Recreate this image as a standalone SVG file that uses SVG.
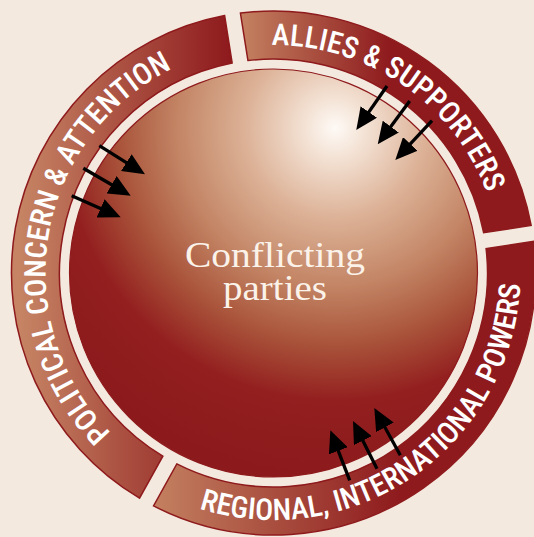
<svg xmlns="http://www.w3.org/2000/svg" xmlns:xlink="http://www.w3.org/1999/xlink" width="534" height="537" viewBox="0 0 534 537">
  <style>
    .seg { stroke: #8e1a1c; stroke-width: 1.5; }
    .ring-label { font-family: "Roboto Condensed", "Liberation Sans Narrow", Roboto, "Liberation Sans", sans-serif; font-size: 30px; fill: #ffffff; font-weight: 500; }
    .center-label { font-family: "Liberation Serif", "DejaVu Serif", serif; font-size: 35px; fill: #fbf3ea; text-anchor: middle; }
    .arrow { stroke: #000000; stroke-width: 3.3; fill: none; marker-end: url(#head); }
  </style>
  <defs>
    <marker id="head" viewBox="0 0 22 20" markerUnits="userSpaceOnUse" markerWidth="22" markerHeight="20" refX="16" refY="10" orient="auto">
      <path d="M0,0 L22,10 L0,20 Z" fill="#000000"/>
    </marker>
    <radialGradient id="sphereGrad" gradientUnits="userSpaceOnUse" cx="335" cy="128" r="350" fx="335" fy="128">
      <stop offset="0" stop-color="#fefaf6"/>
      <stop offset="0.09" stop-color="#f3e1d3"/>
      <stop offset="0.26" stop-color="#dcb196"/>
      <stop offset="0.45" stop-color="#c38565"/>
      <stop offset="0.62" stop-color="#a9533a"/>
      <stop offset="0.78" stop-color="#931f1f"/>
      <stop offset="1" stop-color="#8c1a1c"/>
    </radialGradient>
    <linearGradient id="gradPolitical" gradientUnits="userSpaceOnUse" x1="20" y1="0" x2="230" y2="0">
      <stop offset="0" stop-color="#c68464"/>
      <stop offset="1" stop-color="#8e1a1d"/>
    </linearGradient>
    <linearGradient id="gradAllies" gradientUnits="userSpaceOnUse" x1="240" y1="0" x2="390" y2="0">
      <stop offset="0" stop-color="#c48261"/>
      <stop offset="1" stop-color="#8e1a1d"/>
    </linearGradient>
    <linearGradient id="gradRegional" gradientUnits="userSpaceOnUse" x1="150" y1="0" x2="400" y2="0">
      <stop offset="0" stop-color="#c48261"/>
      <stop offset="1" stop-color="#8e1a1d"/>
    </linearGradient>
    <path id="arcPolitical" d="M146.0,462.0 A228,228 0 0 1 214.49,52.77"/>
    <path id="arcAllies" d="M195.52,58.75 A228,228 0 0 1 501.47,269.02"/>
    <path id="arcRegional" d="M169.12,496.86 A247,247 0 0 0 519.6,251.9"/>
  </defs>

  <rect x="0" y="0" width="534" height="537" fill="#f4e9df"/>

  <g id="node-center">
    <circle cx="273.5" cy="273" r="204" fill="url(#sphereGrad)" stroke="#8e1a1c" stroke-width="1.2"/>
    <text class="center-label" x="275" y="267" textLength="180" lengthAdjust="spacingAndGlyphs">Conflicting</text>
    <text class="center-label" x="275" y="300" textLength="104" lengthAdjust="spacingAndGlyphs">parties</text>
  </g>

  <g id="node-political">
    <path class="seg" fill="url(#gradPolitical)" d="M139.54,498.16 A262,262 0 0 1 224.63,15.58 L232.15,63.02 A214,214 0 0 0 162.84,456.16 Z"/>
    <text class="ring-label"><textPath xlink:href="#arcPolitical" href="#arcPolitical" startOffset="50%" text-anchor="middle" textLength="430" lengthAdjust="spacingAndGlyphs">POLITICAL CONCERN &amp; ATTENTION</textPath></text>
  </g>

  <g id="node-allies">
    <path class="seg" fill="url(#gradAllies)" d="M240.43,13.1 A262,262 0 0 1 531.15,225.47 L483.69,232.75 A214,214 0 0 0 247.94,60.54 Z"/>
    <text class="ring-label"><textPath xlink:href="#arcAllies" href="#arcAllies" startOffset="50%" text-anchor="middle" textLength="278" lengthAdjust="spacingAndGlyphs">ALLIES &amp; SUPPORTERS</textPath></text>
  </g>

  <g id="node-regional">
    <path class="seg" fill="url(#gradRegional)" d="M533.57,241.3 A262,262 0 0 1 153.53,505.92 L176.81,463.91 A214,214 0 0 0 486.1,248.56 Z"/>
    <text class="ring-label"><textPath xlink:href="#arcRegional" href="#arcRegional" startOffset="50%" text-anchor="middle" textLength="452" lengthAdjust="spacingAndGlyphs">REGIONAL, INTERNATIONAL POWERS</textPath></text>
  </g>

  <g id="connectors">
    <line class="arrow" x1="99.3" y1="145.7" x2="139.9" y2="171.1"/>
    <line class="arrow" x1="83.3" y1="168.3" x2="125.5" y2="192.7"/>
    <line class="arrow" x1="71.7" y1="195.7" x2="115.2" y2="214.9"/>
    <line class="arrow" x1="387" y1="86" x2="359.7" y2="125.1"/>
    <line class="arrow" x1="409.7" y1="101" x2="381.3" y2="139.5"/>
    <line class="arrow" x1="432" y1="120.7" x2="399.4" y2="155.6"/>
    <line class="arrow" x1="349.7" y1="480.3" x2="332.5" y2="435.9"/>
    <line class="arrow" x1="377" y1="468.7" x2="355.7" y2="426.4"/>
    <line class="arrow" x1="400.3" y1="455.3" x2="377.2" y2="413.3"/>
  </g>
</svg>
